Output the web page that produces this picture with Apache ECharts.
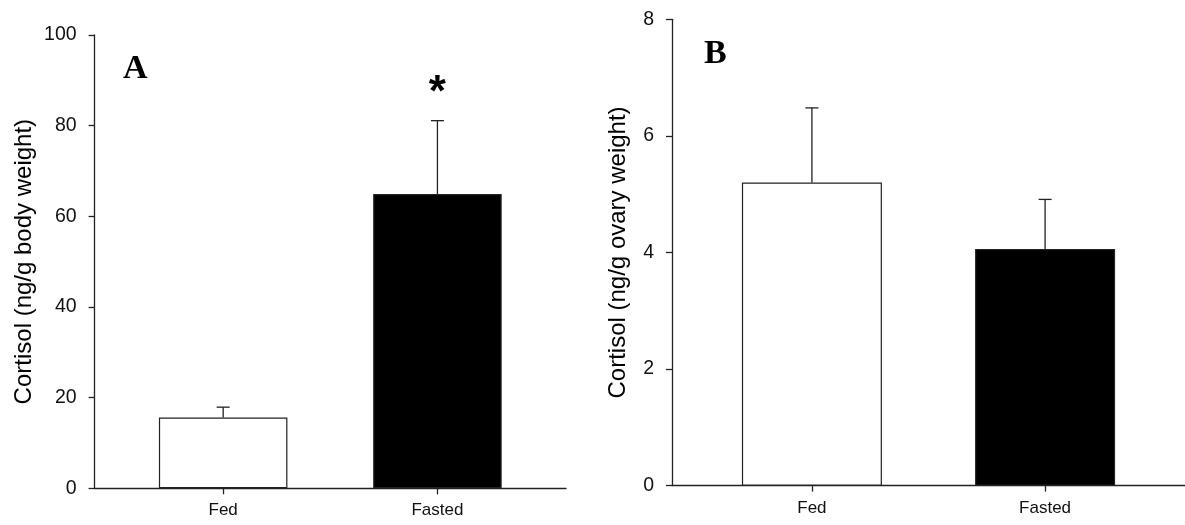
<!DOCTYPE html>
<html>
<head>
<meta charset="utf-8">
<script src="https://cdn.jsdelivr.net/npm/echarts@6/dist/echarts.min.js"></script>
<style>
html,body{margin:0;padding:0;background:#fff;}
#c{width:1185px;height:525px;}
</style>
</head>
<body>
<div id="c"></div>
<script>
// ---- data ----
const categories = ['Fed', 'Fasted'];
const barColors = ['#ffffff', '#000000'];
// Panel A: cortisol per body weight
const bodyMean = [15.6, 64.9];
const bodySem = [2.3, 16.2];
const bodySignificance = ['', '*'];
const bodyTicks = [0, 20, 40, 60, 80, 100];
// Panel B: cortisol per ovary weight
const ovaryMean = [5.2, 4.06];
const ovarySem = [1.28, 0.85];
const ovarySignificance = ['', ''];
const ovaryTicks = [0, 2, 4, 6, 8];
const panelLabels = ['A', 'B'];
const yTitles = ['Cortisol (ng/g body weight)', 'Cortisol (ng/g ovary weight)'];

const axisColor = '#222';
const font = 'Liberation Sans, Arial, sans-serif';

function xAxisFor(gridIndex) {
  return {
    gridIndex: gridIndex, type: 'value', min: 0.4, max: 2.6,
    axisLine: { show: true, lineStyle: { color: axisColor, width: 1.3 } },
    axisTick: { show: true, length: 6, customValues: [1, 2], lineStyle: { color: axisColor, width: 1.3 } },
    axisLabel: { customValues: [1, 2], margin: 14, color: '#111', fontSize: 17, fontFamily: font,
      formatter: v => categories[Math.round(v) - 1] },
    splitLine: { show: false }
  };
}
function yAxisFor(gridIndex, ticks, title, nameGap) {
  const step = ticks[1] - ticks[0];
  return {
    gridIndex: gridIndex, type: 'value', min: ticks[0], max: ticks[ticks.length - 1], interval: step,
    name: title, nameLocation: 'middle', nameGap: nameGap, nameRotate: 90,
    nameTextStyle: { color: '#000', fontSize: 24, fontFamily: font },
    axisLine: { show: true, lineStyle: { color: axisColor, width: 1.3 } },
    axisTick: { show: true, length: 6, lineStyle: { color: axisColor, width: 1.3 } },
    axisLabel: { margin: 18, color: '#111', fontSize: 19.5, fontFamily: font },
    splitLine: { show: false }
  };
}
function barSeries(idx, means, width) {
  return {
    type: 'bar', xAxisIndex: idx, yAxisIndex: idx, barWidth: width, z: 2,
    data: means.map((m, i) => ({
      value: [i + 1, m],
      itemStyle: { color: barColors[i], borderColor: '#222', borderWidth: 1.2 }
    })),
    silent: true
  };
}
function errSeries(idx, means, sems, sig) {
  return {
    type: 'custom', xAxisIndex: idx, yAxisIndex: idx, z: 3, silent: true,
    data: means.map((m, i) => [i + 1, m, m + sems[i]]),
    renderItem: function (params, api) {
      const x = api.value(0);
      const p0 = api.coord([x, api.value(1)]);
      const p1 = api.coord([x, api.value(2)]);
      const hw = 6.5;
      const style = { stroke: '#222', lineWidth: 1.3 };
      const children = [
        { type: 'line', shape: { x1: p0[0], y1: p0[1], x2: p1[0], y2: p1[1] }, style: style },
        { type: 'line', shape: { x1: p1[0] - hw, y1: p1[1], x2: p1[0] + hw, y2: p1[1] }, style: style }
      ];
      const s = sig[params.dataIndex];
      if (s) {
        children.push({ type: 'text', x: p1[0], y: p1[1] - 5,
          style: { text: s, fill: '#000', font: 'bold 44px ' + font, align: 'center', verticalAlign: 'bottom' } });
      }
      return { type: 'group', children: children };
    }
  };
}

const chart = echarts.init(document.getElementById('c'), null, { renderer: 'canvas' });
chart.setOption({
  animation: false,
  backgroundColor: '#fff',
  grid: [
    { left: 94.6, right: 619, top: 35, bottom: 36.7 },
    { left: 672, right: 0, top: 19.3, bottom: 39.4 }
  ],
  xAxis: [xAxisFor(0), xAxisFor(1)],
  yAxis: [yAxisFor(0, bodyTicks, yTitles[0], 58), yAxisFor(1, ovaryTicks, yTitles[1], 42)],
  graphic: [
    { type: 'text', left: 123, top: 52, style: { text: panelLabels[0], font: 'bold 34px "Liberation Serif", "Times New Roman", serif', fill: '#000' } },
    { type: 'text', left: 704, top: 37, style: { text: panelLabels[1], font: 'bold 34px "Liberation Serif", "Times New Roman", serif', fill: '#000' } }
  ],
  series: [
    barSeries(0, bodyMean, 128.5),
    errSeries(0, bodyMean, bodySem, bodySignificance),
    barSeries(1, ovaryMean, 140),
    errSeries(1, ovaryMean, ovarySem, ovarySignificance)
  ]
});
</script>
</body>
</html>
